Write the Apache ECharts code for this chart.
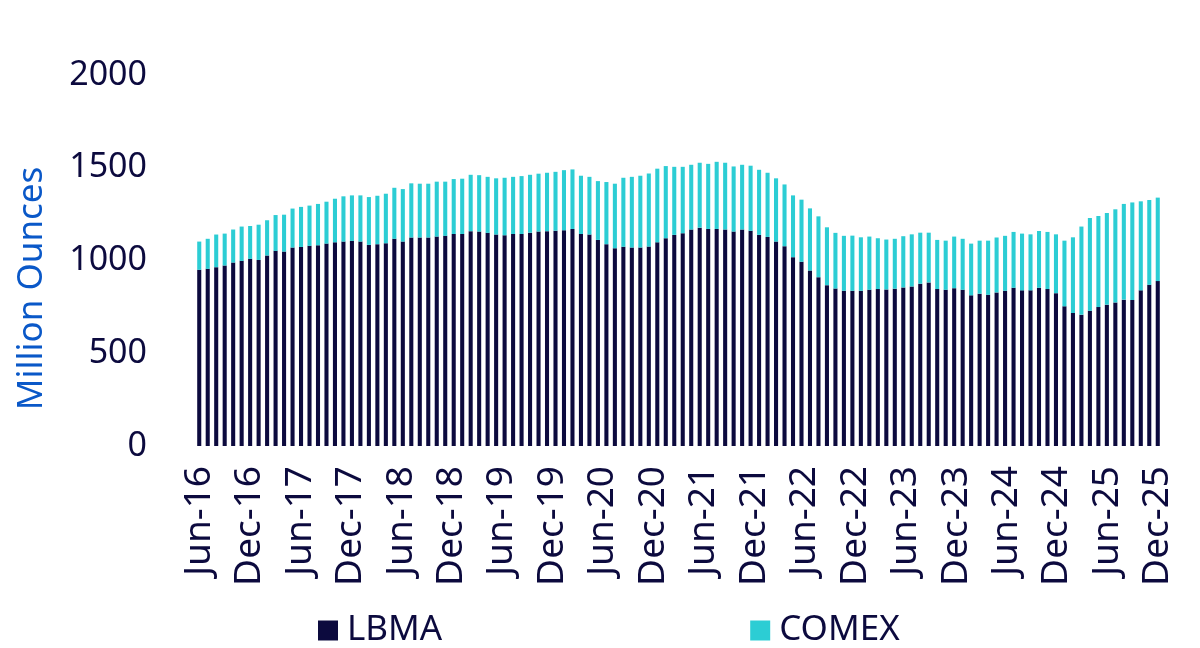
<!DOCTYPE html>
<html lang="en">
<head>
    <meta charset="UTF-8">
    <title>LBMA and COMEX silver holdings</title>
    <style>
        html, body { margin: 0; padding: 0; background: #ffffff; }
        #chart { width: 1200px; height: 648px; }
    </style>
</head>
<body>
<div id="chart"></div>
<script src="https://cdn.jsdelivr.net/npm/echarts@6.0.0/dist/echarts.min.js"></script>
<script>
    // month-end holdings, million ounces, Jul-16 .. Dec-25
    var lbma = [
        950, 955, 964, 973, 989, 998, 1009, 1003, 1027, 1052, 1048, 1070,
        1073, 1079, 1082, 1091, 1098, 1102, 1106, 1102, 1084, 1088, 1093, 1117,
        1102, 1124, 1124, 1124, 1129, 1133, 1143, 1143, 1158, 1156, 1149, 1140,
        1136, 1143, 1143, 1150, 1156, 1158, 1161, 1163, 1170, 1143, 1140, 1111,
        1088, 1066, 1074, 1070, 1070, 1075, 1098, 1120, 1138, 1147, 1167, 1177,
        1170, 1170, 1167, 1156, 1167, 1160, 1138, 1127, 1102, 1077, 1018, 993,
        946, 910, 867, 849, 837, 837, 837, 842, 846, 844, 848, 855,
        860, 875, 882, 846, 842, 851, 842, 812, 821, 815, 828, 837,
        853, 839, 839, 853, 846, 824, 753, 717, 708, 729, 749, 762,
        774, 789, 787, 839, 869, 889
    ];
    var comex = [
        152, 162, 176, 172, 178, 185, 177, 190, 190, 193, 199, 210,
        216, 217, 223, 226, 235, 244, 245, 249, 258, 261, 267, 275,
        283, 292, 290, 290, 296, 292, 296, 298, 304, 304, 302, 303,
        310, 308, 312, 312, 312, 315, 317, 324, 321, 314, 311, 317,
        335, 348, 372, 381, 387, 394, 397, 389, 367, 358, 349, 350,
        351, 362, 360, 351, 349, 351, 351, 346, 341, 333, 333, 335,
        335, 328, 312, 300, 296, 297, 288, 287, 274, 269, 269, 276,
        281, 275, 268, 265, 265, 278, 275, 279, 286, 292, 296, 296,
        301, 306, 302, 306, 308, 317, 354, 408, 475, 500, 491, 494,
        502, 516, 526, 480, 457, 450
    ];
    var tickLabels = [
        'Jun-16', 'Dec-16', 'Jun-17', 'Dec-17', 'Jun-18', 'Dec-18', 'Jun-19',
        'Dec-19', 'Jun-20', 'Dec-20', 'Jun-21', 'Dec-21', 'Jun-22', 'Dec-22',
        'Jun-23', 'Dec-23', 'Jun-24', 'Dec-24', 'Jun-25', 'Dec-25'
    ];
    var yTicks = [0, 500, 1000, 1500, 2000];

    var monthNames = ['Jan', 'Feb', 'Mar', 'Apr', 'May', 'Jun', 'Jul', 'Aug', 'Sep', 'Oct', 'Nov', 'Dec'];
    var months = [];
    for (var i = 0; i < lbma.length; i++) {
        var m = 6 + i;   // Jul-16 is month index 6 of 2016
        months.push(monthNames[m % 12] + '-' + (16 + Math.floor(m / 12)));
    }

    var navy = '#0c0a3e';
    var cyan = '#2ccdd4';
    var font = 'Noto Sans';

    // label axis runs from first bar centre (0) to last bar centre (n-1)
    var lastTick = tickLabels.length - 1;
    var lastBar = months.length - 1;
    var tickValues = tickLabels.map(function (t, k) { return k; });

    var myChart = echarts.init(document.getElementById('chart'));

    var option = {
        animation: false,
        textStyle: { fontFamily: font },
        grid: {
            left: 195,
            right: 38,
            top: 75,
            bottom: 202,
            containLabel: false
        },
        legend: {
            data: ['LBMA', 'COMEX'],
            left: 313,
            top: 608,
            itemGap: 308,
            itemWidth: 20,
            itemHeight: 20,
            icon: 'rect',
            textStyle: {
                color: navy,
                fontSize: 35,
                fontFamily: font,
                padding: [0, 0, 0, 4]
            }
        },
        xAxis: [
            {
                type: 'category',
                data: months,
                show: false
            },
            {
                type: 'value',
                position: 'bottom',
                min: -0.5 * lastTick / lastBar,
                max: (lastBar + 0.5) * lastTick / lastBar,
                axisLine: { show: false },
                axisTick: { show: false },
                splitLine: { show: false },
                axisLabel: {
                    customValues: tickValues,
                    rotate: 90,
                    margin: 20,
                    color: navy,
                    fontSize: 37,
                    fontFamily: font,
                    formatter: function (v) {
                        return tickLabels[Math.round(v)];
                    }
                }
            }
        ],
        yAxis: {
            type: 'value',
            min: yTicks[0],
            max: yTicks[yTicks.length - 1],
            interval: yTicks[1] - yTicks[0],
            name: 'Million Ounces',
            nameLocation: 'middle',
            nameGap: 145,
            nameTextStyle: {
                color: '#0a58c8',
                fontSize: 35,
                fontFamily: font,
                padding: [0, 56, 0, 0]
            },
            axisLine: { show: false },
            axisTick: { show: false },
            splitLine: { show: false },
            axisLabel: {
                margin: 48,
                color: navy,
                fontSize: 34,
                fontFamily: font,
                formatter: function (v) { return String(v); }
            }
        },
        series: [
            {
                name: 'LBMA',
                type: 'bar',
                stack: 'vaults',
                xAxisIndex: 0,
                barWidth: '48%',
                itemStyle: { color: navy },
                data: lbma
            },
            {
                name: 'COMEX',
                type: 'bar',
                stack: 'vaults',
                xAxisIndex: 0,
                barWidth: '48%',
                itemStyle: { color: cyan },
                data: comex
            }
        ]
    };
    myChart.setOption(option);
</script>
</body>
</html>
